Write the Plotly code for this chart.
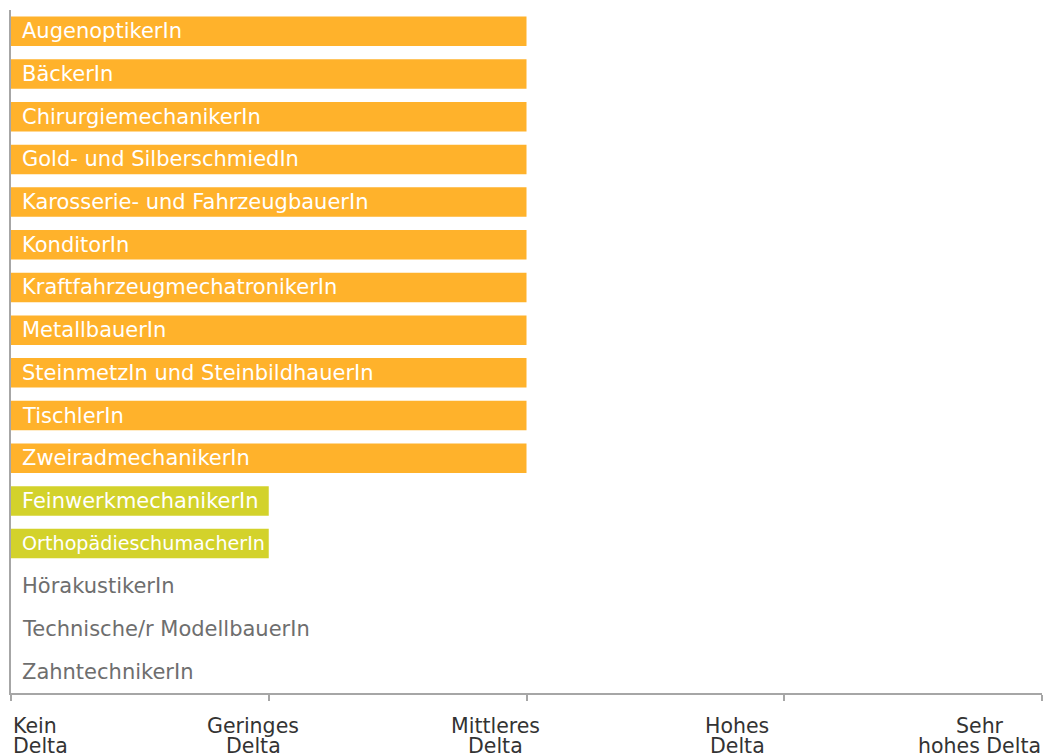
import plotly.graph_objects as go

categories = [
    "AugenoptikerIn", "BäckerIn", "ChirurgiemechanikerIn", "Gold- und SilberschmiedIn",
    "Karosserie- und FahrzeugbauerIn", "KonditorIn", "KraftfahrzeugmechatronikerIn",
    "MetallbauerIn", "SteinmetzIn und SteinbildhauerIn", "TischlerIn", "ZweiradmechanikerIn",
    "FeinwerkmechanikerIn", "OrthopädieschumacherIn", "HörakustikerIn",
    "Technische/r ModellbauerIn", "ZahntechnikerIn",
]
values = [2, 2, 2, 2, 2, 2, 2, 2, 2, 2, 2, 1, 1, 0, 0, 0]
tick_vals = [0, 1, 2, 3, 4]
tick_labels = ["Kein<br>Delta", "Geringes<br>Delta", "Mittleres<br>Delta", "Hohes<br>Delta", "Sehr<br>hohes Delta"]

ORANGE = "#FFB22B"
GREEN = "#D3D22B"
colors = [ORANGE if v == 2 else GREEN for v in values]

PX_PER_UNIT = (1046 - 11 - 4) / 4.0
TICK_FONT = 20.5

fig = go.Figure()
fig.add_trace(go.Bar(
    x=values, y=categories, orientation="h",
    marker=dict(color=colors, line=dict(width=0)),
    hoverinfo="skip",
))

annotations = []
for cat, v in zip(categories, values):
    size = 21
    if v > 0:
        avail = v * PX_PER_UNIT - 13
        size = min(21, avail / (0.58 * len(cat)))
    annotations.append(dict(
        x=0, y=cat, xref="x", yref="y", text=cat, showarrow=False,
        xanchor="left", yanchor="middle", xshift=9,
        font=dict(family="DejaVu Sans", size=size, color="#FFFFFF" if v > 0 else "#6E6E6E"),
    ))

n = len(tick_vals)
for i, (tv, tl) in enumerate(zip(tick_vals, tick_labels)):
    lines = tl.split("<br>")
    if i == 0:
        anchor, xs = "left", 0
    elif i == n - 1:
        block_w = max(len(s) for s in lines) * 0.55 * TICK_FONT
        anchor, xs = "center", -block_w / 2
    else:
        anchor, xs = "center", -15.7 * i
    for j, line in enumerate(lines):
        annotations.append(dict(
            x=tv, y=0, xref="x", yref="paper", text=line, showarrow=False,
            xanchor=anchor, yanchor="middle", yshift=-33 - 20 * j, xshift=xs,
            font=dict(family="DejaVu Sans", size=TICK_FONT, color="#333333"),
        ))

fig.update_layout(
    width=1046, height=755,
    margin=dict(l=11, r=4, t=10, b=62),
    paper_bgcolor="white", plot_bgcolor="white",
    bargap=0.31,
    showlegend=False,
    annotations=annotations,
    xaxis=dict(
        range=[0, 4], tickvals=tick_vals, showticklabels=False,
        showgrid=False, zeroline=False, showline=True, linecolor="#A6A6A6", linewidth=1.5,
        ticks="outside", ticklen=6, tickcolor="#A6A6A6", tickwidth=1.5,
    ),
    yaxis=dict(
        autorange="reversed", showticklabels=False, showgrid=False, zeroline=False,
        showline=True, linecolor="#A6A6A6", linewidth=1.5, ticks="",
    ),
)

fig.write_html("out.html")
